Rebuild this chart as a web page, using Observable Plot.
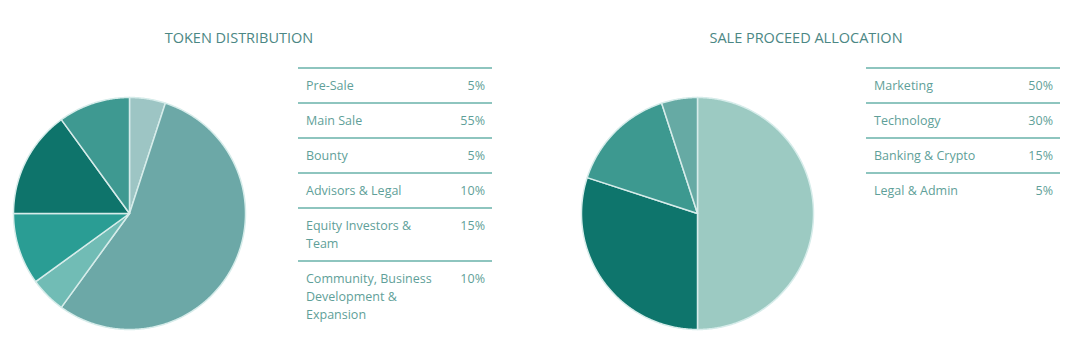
<!DOCTYPE html>
<html><head><meta charset="utf-8">
<script src="https://cdn.jsdelivr.net/npm/d3@7"></script>
<script src="https://cdn.jsdelivr.net/npm/@observablehq/plot@0.6"></script>
<style>
body{margin:0;background:#fff;font-family:"Open Sans",sans-serif;}
#wrap{position:relative;width:1080px;height:363px;overflow:hidden;background:#fff}
.title{position:absolute;top:28px;font-size:14.5px;line-height:19px;color:#4b8784;text-align:center;width:300px;white-space:nowrap}
.tbl{position:absolute;top:67px;width:194px;font-size:12.5px;color:#5f9f99}
.row{display:flex;align-items:flex-start;border-top:2px solid #8ec5bf;padding:8px 7px 7px 8px;line-height:18px}
.lab{width:138px}
.val{flex:1;text-align:right}
.pie{position:absolute;top:93px;width:240px;height:240px}
</style></head>
<body>
<div id="wrap"></div>
<script>
// ---- data ----
const tokenCategories = ["Pre-Sale", "Main Sale", "Bounty", "Advisors & Legal", "Equity Investors & Team", "Community, Business Development & Expansion"];
const tokenValues = [5, 55, 5, 10, 15, 10];
const tokenColors = ["#9dc5c4", "#6ca8a7", "#71bcb5", "#2a9d94", "#0e746b", "#3e9991"];

const saleCategories = ["Marketing", "Technology", "Banking & Crypto", "Legal & Admin"];
const saleValues = [50, 30, 15, 5];
const saleColors = ["#9ccac2", "#0e756c", "#3d9990", "#66aaa4"];

const titles = ["TOKEN DISTRIBUTION", "SALE PROCEED ALLOCATION"];

// ---- helpers ----
function wedges(categories, values) {
  const total = d3.sum(values);
  const rows = [];
  let acc = 0;
  categories.forEach((name, i) => {
    const a0 = acc / total * 2 * Math.PI;
    acc += values[i];
    const a1 = acc / total * 2 * Math.PI;
    rows.push({name, x: 0, y: 0});
    const n = Math.max(2, Math.ceil((a1 - a0) / (Math.PI / 360)));
    for (let j = 0; j <= n; j++) {
      const a = a0 + (a1 - a0) * j / n;
      rows.push({name, x: Math.sin(a), y: Math.cos(a)});
    }
  });
  return rows;
}

function pie(categories, values, colors) {
  const R = 120 / 116;
  return Plot.plot({
    width: 240, height: 240,
    margin: 0,
    x: {domain: [-R, R], axis: null},
    y: {domain: [-R, R], axis: null},
    color: {domain: categories, range: colors},
    marks: [
      Plot.line(wedges(categories, values), {
        x: "x", y: "y", z: "name", fill: "name",
        stroke: "#d6ecea", strokeWidth: 1.5, strokeLinejoin: "round",
        curve: "linear-closed"
      })
    ]
  });
}

function table(categories, values) {
  const t = document.createElement("div");
  t.className = "tbl";
  categories.forEach((c, i) => {
    const r = document.createElement("div");
    r.className = "row";
    const l = document.createElement("div");
    l.className = "lab"; l.textContent = c;
    const v = document.createElement("div");
    v.className = "val"; v.textContent = values[i] + "%";
    r.append(l, v);
    t.append(r);
  });
  return t;
}

const wrap = document.getElementById("wrap");

const sections = [
  {cats: tokenCategories, vals: tokenValues, cols: tokenColors, title: titles[0], cx: 129, tableX: 298, titleX: 239},
  {cats: saleCategories, vals: saleValues, cols: saleColors, title: titles[1], cx: 697, tableX: 866, titleX: 806}
];

sections.forEach(s => {
  const ti = document.createElement("div");
  ti.className = "title";
  ti.textContent = s.title;
  ti.style.left = (s.titleX - 150) + "px";
  wrap.append(ti);

  const p = document.createElement("div");
  p.className = "pie";
  p.style.left = (s.cx - 120) + "px";
  p.append(pie(s.cats, s.vals, s.cols));
  wrap.append(p);

  const t = table(s.cats, s.vals);
  t.style.left = s.tableX + "px";
  wrap.append(t);
});
</script>
</body></html>
